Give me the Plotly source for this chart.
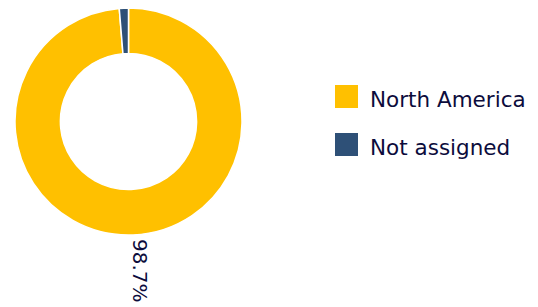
import plotly.graph_objects as go

categories = ["North America", "Not assigned"]
values = [98.7, 1.3]
colors = ["#FFC000", "#2E5077"]

W, H = 530, 299  # page body adds an 8px margin
TEXT_COLOR = "#0C0C3C"
FONT = "DejaVu Sans"


def px(x):
    return x / W


def py(y):
    return 1 - y / H


fig = go.Figure()
fig.add_trace(go.Pie(
    labels=categories,
    values=values,
    sort=False,
    direction="clockwise",
    rotation=0,
    hole=0.6,
    marker=dict(colors=colors, line=dict(color="white", width=1.5)),
    textinfo="none",
    hoverinfo="label+percent",
    showlegend=False,
    domain=dict(x=[px(7), px(234)], y=[py(227), py(0)]),
))

# outside label for the large slice
total = sum(values)
fig.add_annotation(
    x=px(132), y=py(263), xref="paper", yref="paper",
    xanchor="center", yanchor="middle",
    text=f"{values[0] / total * 100:.1f}%", textangle=90, showarrow=False,
    font=dict(family=FONT, size=20, color=TEXT_COLOR),
)

# custom legend
for i, (cat, col) in enumerate(zip(categories, colors)):
    top = 77 + i * 48
    fig.add_shape(type="rect", xref="paper", yref="paper",
                  x0=px(327), x1=px(350), y0=py(top + 23), y1=py(top),
                  fillcolor=col, line=dict(width=0))
    fig.add_annotation(x=px(360), y=py(top + 14), xref="paper", yref="paper",
                       text=cat, showarrow=False, xanchor="left", yanchor="middle",
                       font=dict(family=FONT, size=21.5, color=TEXT_COLOR))

fig.update_layout(
    width=W, height=H,
    margin=dict(l=0, r=0, t=0, b=0),
    paper_bgcolor="white", plot_bgcolor="white",
)
fig.write_html("out.html")
